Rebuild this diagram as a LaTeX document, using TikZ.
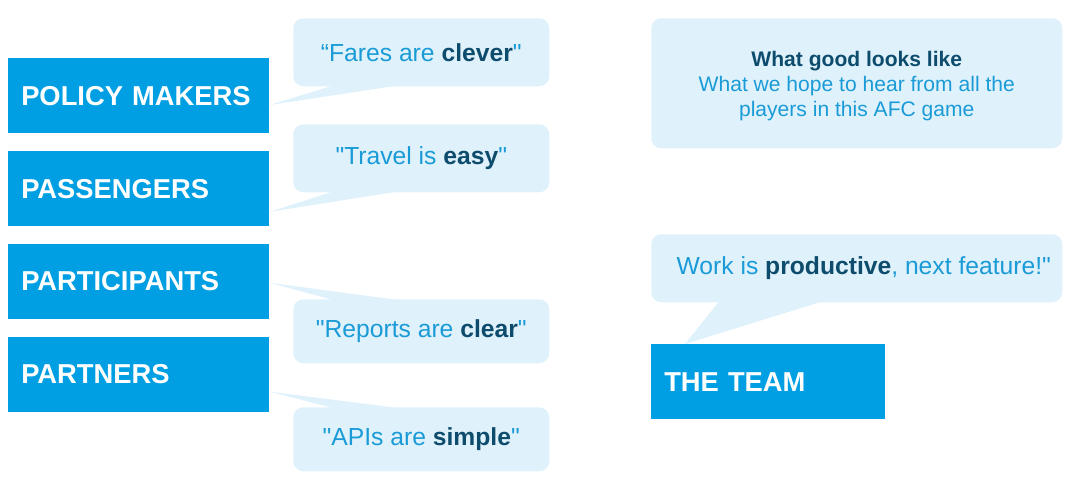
\documentclass[tikz,border=0pt]{standalone}
\usepackage{fontspec}
\setmainfont{Liberation Sans}
\usetikzlibrary{positioning,calc}
\definecolor{afcblue}{HTML}{009FE3}
\definecolor{bubblefill}{HTML}{DFF2FB}
\definecolor{quotetext}{HTML}{1A9BD7}
\definecolor{strongtext}{HTML}{0E4C6D}
\newcommand{\keyword}[1]{\textbf{\color{strongtext}#1}}
\newcommand{\dq}{\textquotedbl}

\begin{document}
\begin{tikzpicture}[x=0.75pt,y=-0.75pt,
	player/.style={fill=afcblue,text=white,font=\bfseries\fontsize{20.5}{24}\selectfont,minimum width=195.75pt,minimum height=56.25pt,text width=176.25pt,align=left,inner xsep=9.75pt,inner ysep=0pt,anchor=north west},
	bubble/.style={fill=bubblefill,rounded corners=7.5pt,text=quotetext,font=\fontsize{18.5}{22}\selectfont,align=center,inner sep=0pt,anchor=north west,minimum width=192pt,minimum height=51pt}]
	\useasboundingbox (0,0) rectangle (1071,481);
	% the players, one under the other
	\node[player] (policy) at (8,58) {POLICY MAKERS};
	\node[player,below=13pt of policy] (passengers) {PASSENGERS};
	\node[player,below=13pt of passengers] (participants) {PARTICIPANTS};
	\node[player,below=13pt of participants] (partners) {PARTNERS};
	\node[player,minimum width=175.5pt,text width=156pt] (team) at (651,344) {THE TEAM};
	% what they say
	\node[bubble] (fares) at (293,18) {“Fares are \keyword{clever}\dq};
	\node[bubble] (travel) at (293,124) {\dq Travel is \keyword{easy}\dq};
	\node[bubble,minimum height=48pt] (reports) at (293,299) {\dq Reports are \keyword{clear}\dq};
	\node[bubble,minimum height=48pt] (apis) at (293,407) {\dq APIs are \keyword{simple}\dq};
	\node[bubble,minimum width=308.25pt,minimum height=97.5pt,font=\fontsize{15.8}{18.75}\selectfont] (good) at (651,18) {\rule{0pt}{15pt}\keyword{What good looks like}\\What we hope to hear from all the\\players in this AFC game};
	\node[bubble,minimum width=308.25pt] (work) at (651,234) {\hspace*{10.5pt}Work is \keyword{productive}, next feature!\dq};
	% tails
	\fill[bubblefill] ($(policy.north east)+(0,47)$) -- ($(fares.south west)+(40,-1)$) -- ($(fares.south west)+(105,-1)$) -- cycle;
	\fill[bubblefill] ($(passengers.north east)+(0,61)$) -- ($(travel.south west)+(40,-1)$) -- ($(travel.south west)+(105,-1)$) -- cycle;
	\fill[bubblefill] ($(participants.north east)+(0,39)$) -- ($(reports.north west)+(40,1)$) -- ($(reports.north west)+(105,1)$) -- cycle;
	\fill[bubblefill] ($(partners.north east)+(0,55)$) -- ($(apis.north west)+(40,1)$) -- ($(apis.north west)+(105,1)$) -- cycle;
	\fill[bubblefill] ($(team.north west)+(34,0)$) -- ($(work.south west)+(68,-1)$) -- ($(work.south west)+(171,-1)$) -- cycle;
\end{tikzpicture}
\end{document}
